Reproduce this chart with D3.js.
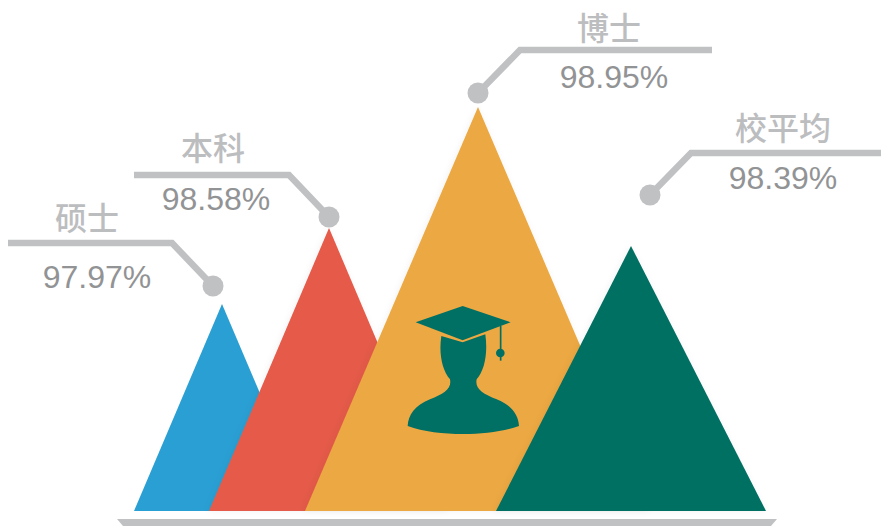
<!DOCTYPE html>
<html><head><meta charset="utf-8">
<script src="https://cdn.jsdelivr.net/npm/d3@7/dist/d3.min.js"></script>
<style>html,body{margin:0;padding:0;background:#fff}svg{display:block}</style></head>
<body><svg id="c" width="881" height="526"></svg>
<script>
const categories = ["硕士","本科","博士","校平均"];
const values = [97.97,98.58,98.95,98.39];
const colors = ["#2a9fd3","#e55a48","#eca842","#006f64"];

const W=881,H=526,baseY=511;
const svg=d3.select("#c");
const fontFamily='"Liberation Sans","Noto Sans CJK SC",sans-serif';

// scales: the source graphic is not linear, so the value scale is piecewise
const yScale=d3.scaleLinear().domain([97.97,98.39,98.58,98.95]).range([304,246,228,107]);
const peakX=d3.scaleOrdinal(categories,[222,329,478,631]);
const halfW=d3.scaleOrdinal(categories,[88,120,173,135]);
const color=d3.scaleOrdinal(categories,colors);

const defs=svg.append("defs");
const f=defs.append("filter").attr("id","soft").attr("x","-20%").attr("y","-5%").attr("width","140%").attr("height","110%");
f.append("feDropShadow").attr("dx",-1).attr("dy",0).attr("stdDeviation",3).attr("flood-color","#000").attr("flood-opacity",0.05);

// ground bar
svg.append("path").attr("d","M117,519L777,519L771,526L123,526Z").attr("fill","#c0c1c3");

// triangles
const data=categories.map((c,i)=>({c,v:values[i]}));
svg.selectAll("path.tri").data(data).join("path").attr("class","tri")
  .attr("d",d=>{const x=peakX(d.c),w=halfW(d.c),y=yScale(d.v);return d3.line()([[x-w,baseY],[x,y],[x+w,baseY]])+"Z";})
  .attr("fill",d=>color(d.c))
  .attr("filter",(d,i)=>i?"url(#soft)":null);

// icon
const icon=svg.append("g").attr("transform","translate(380,290) scale(0.3333)").attr("fill","#006f64");
icon.append("path").attr("d","M184,138C176,190 186,240 210,268C216,296 192,312 150,328C104,346 85,375 83,408C130,425 190,432 250,432C310,432 370,425 417,408C415,375 396,346 350,328C308,312 284,296 290,268C314,240 324,190 316,133L248,157Z");
icon.append("path").attr("d","M107,97L248,48L392,97L248,151Z");
icon.append("path").attr("d","M362,108L362,212").attr("stroke","#006f64").attr("stroke-width",5).attr("fill","none");
icon.append("circle").attr("cx",361).attr("cy",189).attr("r",13);

// callouts
const callout=d3.scaleOrdinal(categories,[
 {pts:[[8,243],[172,243],[213,286]],nx:87,ny:216,vx:97,vy:277},
 {pts:[[134,175],[289,175],[329,217]],nx:213,ny:146,vx:216,vy:199},
 {pts:[[712,50],[520,50],[478,93]],nx:609,ny:26,vx:614,vy:77},
 {pts:[[881,153],[691,153],[650,195]],nx:783,ny:126,vx:783,vy:178}]);
const g=svg.selectAll("g.call").data(data).join("g").attr("class","call");
g.append("path").attr("d",d=>d3.line()(callout(d.c).pts)).attr("fill","none").attr("stroke","#c0c1c3").attr("stroke-width",6.5);
g.append("circle").attr("cx",d=>callout(d.c).pts[2][0]).attr("cy",d=>callout(d.c).pts[2][1]).attr("r",10.5).attr("fill","#c0c1c3");
g.append("text").text(d=>d.c).attr("x",d=>callout(d.c).nx).attr("y",d=>callout(d.c).ny)
  .attr("text-anchor","middle").attr("dominant-baseline","central").attr("font-family",'"Noto Sans CJK SC",sans-serif')
  .attr("font-size",32).attr("font-weight",500).attr("fill","#bcbdbf");
g.append("text").text(d=>d.v.toFixed(2)+"%").attr("x",d=>callout(d.c).vx).attr("y",d=>callout(d.c).vy)
  .attr("text-anchor","middle").attr("dominant-baseline","central").attr("font-family",fontFamily)
  .attr("font-size",32).attr("fill","#929395");
</script></body></html>
